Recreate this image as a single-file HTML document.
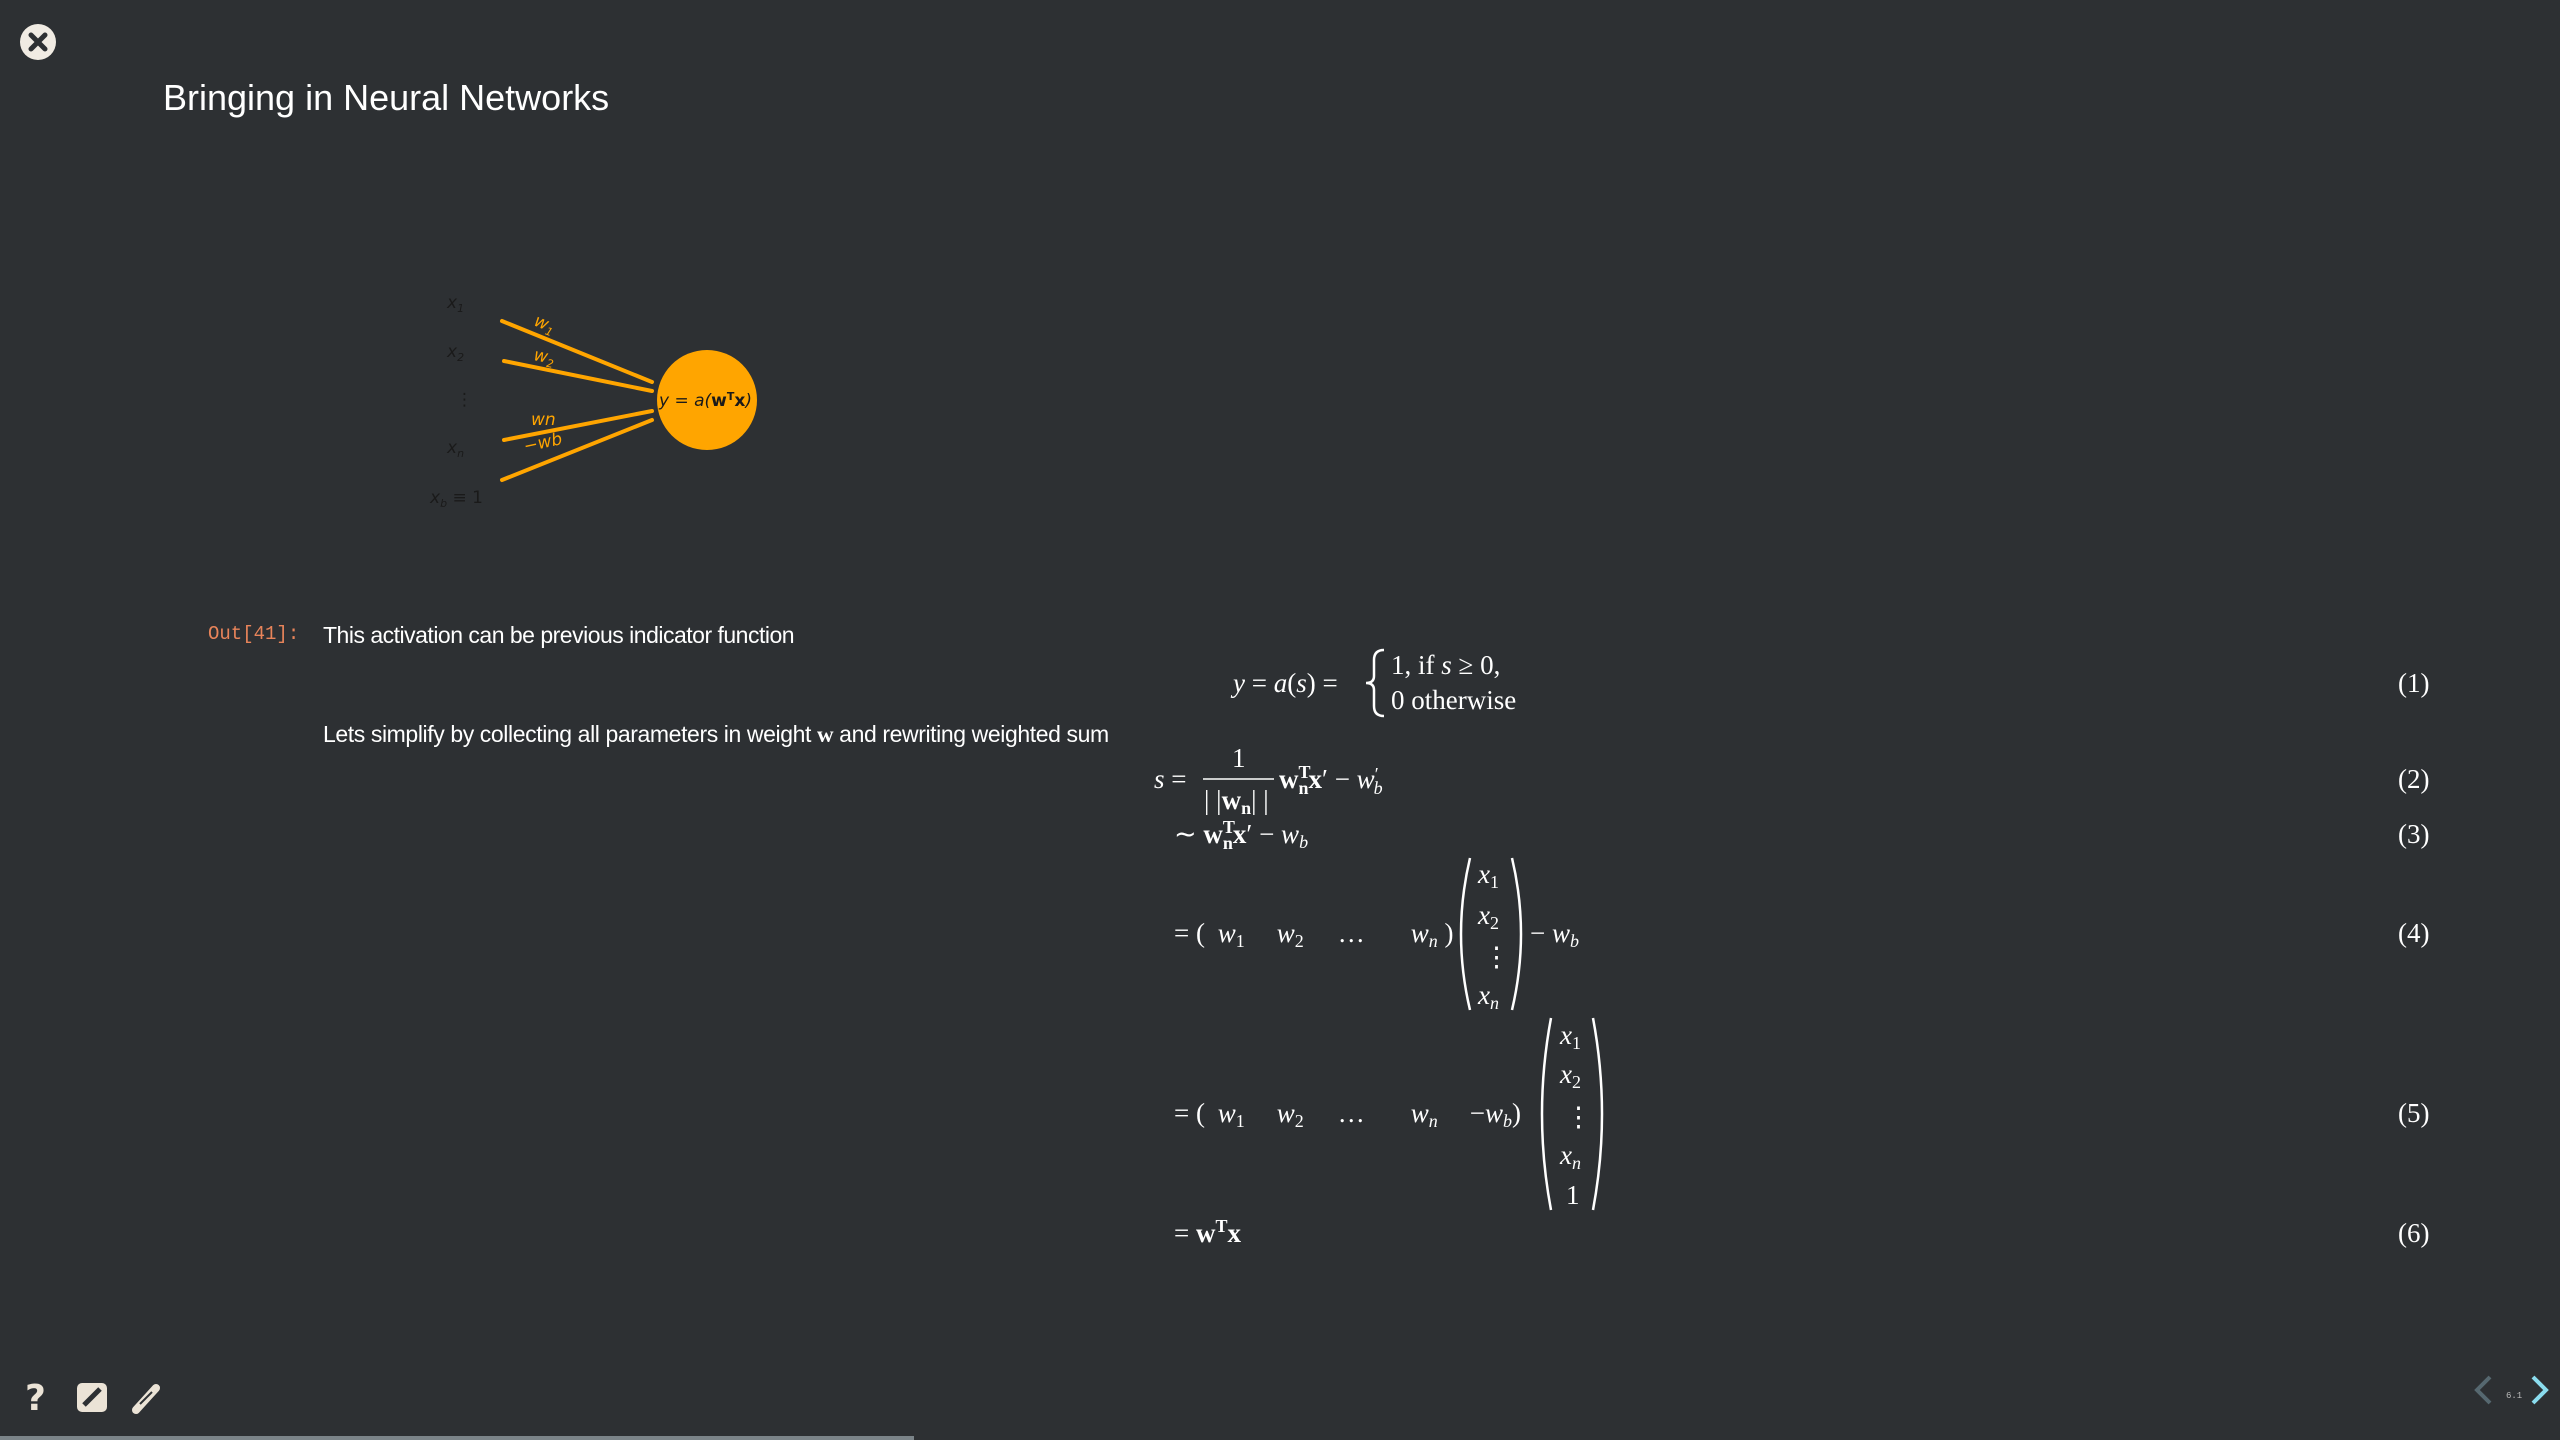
<!DOCTYPE html>
<html><head><meta charset="utf-8"><style>
html,body{margin:0;padding:0;background:#2d3033;width:2560px;height:1440px;overflow:hidden}
svg{display:block}
.m{font-family:"Liberation Serif",serif;fill:#fff;font-size:27px}
.s{font-family:"Liberation Sans",sans-serif;fill:#fff}
.d{font-family:"DejaVu Sans",sans-serif;font-style:italic;fill:#1a1a1a;font-size:17px}
.o{font-family:"DejaVu Sans",sans-serif;font-style:italic;fill:#ffa500;font-size:17px}
</style></head><body>
<svg width="2560" height="1440" viewBox="0 0 2560 1440">
<rect width="2560" height="1440" fill="#2d3033"/>
<g>
<circle cx="38" cy="42" r="18" fill="#f0ebe3"/>
<path d="M31 35 L45 49 M45 35 L31 49" stroke="#2d3033" stroke-width="5" stroke-linecap="round"/>
</g>
<text x="163" y="110" class="s" font-size="36">Bringing in Neural Networks</text>

<g>
<text x="447" y="308" class="d">x<tspan font-size="11" dy="4">1</tspan></text>
<text x="447" y="357" class="d">x<tspan font-size="11" dy="4">2</tspan></text>
<text x="456" y="405" class="d" font-style="normal">⋮</text>
<text x="447" y="453" class="d">x<tspan font-size="11" dy="4">n</tspan></text>
<text x="430" y="503" class="d">x<tspan font-size="11" dy="4">b</tspan><tspan dy="-4" font-style="normal"> ≡ 1</tspan></text>
<g stroke="#ffa500" stroke-width="4" stroke-linecap="round" fill="#ffa500">
<line x1="502" y1="321" x2="652" y2="382"/>
<line x1="504" y1="361" x2="652" y2="391"/>
<line x1="504" y1="440" x2="652" y2="411"/>
<line x1="502" y1="480" x2="652" y2="420"/>
</g>
<text x="533" y="325" class="o" transform="rotate(22 533 325)">w<tspan font-size="11" dy="4">1</tspan></text>
<text x="533" y="360" class="o" transform="rotate(11 533 360)">w<tspan font-size="11" dy="4">2</tspan></text>
<text x="531" y="425" class="o" font-style="normal">wn</text>
<text x="525" y="452" class="o" font-style="normal" transform="rotate(-12 525 452)">−wb</text>
<circle cx="707" cy="400" r="50" fill="#ffa500"/>
<text x="659" y="406" class="d" font-size="17">y = a(<tspan font-weight="bold" font-style="normal">w</tspan><tspan font-size="11" dy="-6" font-weight="bold" font-style="normal">T</tspan><tspan dy="6" font-weight="bold" font-style="normal">x</tspan>)</text>
</g>

<text x="208" y="639" font-family="Liberation Mono,monospace" font-size="19" fill="#e8845a">Out[41]:</text>
<text x="323" y="643" class="s" font-size="23" letter-spacing="-0.5">This activation can be previous indicator function</text>
<text x="323" y="742" class="s" font-size="23" letter-spacing="-0.4">Lets simplify by collecting all parameters in weight <tspan font-family="Liberation Serif" font-weight="bold">w</tspan> and rewriting weighted sum</text>

<g>
<text x="1233" y="692" class="m"><tspan font-style="italic">y</tspan> = <tspan font-style="italic">a</tspan>(<tspan font-style="italic">s</tspan>) =</text>
<path d="M1384 650 Q1374 650 1374 660 L1374 676 Q1374 683 1366 683 Q1374 683 1374 690 L1374 706 Q1374 716 1384 716" stroke="#fff" stroke-width="2.5" fill="none"/>
<text x="1391" y="674" class="m">1,  if <tspan font-style="italic">s</tspan> ≥ 0,</text>
<text x="1391" y="709" class="m">0 otherwise</text>
<text x="2398" y="692" class="m">(1)</text>

<text x="1154" y="788" class="m"><tspan font-style="italic">s</tspan> =</text>
<text x="1232" y="767" class="m">1</text>
<line x1="1203" y1="779" x2="1274" y2="779" stroke="#fff" stroke-width="1.5"/>
<text x="1204" y="809" class="m">| |<tspan font-weight="bold">w</tspan><tspan font-weight="bold" font-size="18" dy="5">n</tspan><tspan dy="-5">| |</tspan></text>
<text x="1279" y="788" class="m"><tspan font-weight="bold">w</tspan><tspan font-weight="bold" font-size="18" dy="-10">T</tspan><tspan font-weight="bold" font-size="18" dx="-12" dy="16">n</tspan><tspan font-weight="bold" dy="-6">x</tspan>′ − <tspan font-style="italic">w</tspan><tspan font-size="18" dy="-8">′</tspan><tspan font-style="italic" font-size="18" dx="-5" dy="14">b</tspan></text>
<text x="2398" y="788" class="m">(2)</text>

<text x="1174" y="843" class="m">∼ <tspan font-weight="bold">w</tspan><tspan font-weight="bold" font-size="18" dy="-10">T</tspan><tspan font-weight="bold" font-size="18" dx="-12" dy="16">n</tspan><tspan font-weight="bold" dy="-6">x</tspan>′ − <tspan font-style="italic">w</tspan><tspan font-style="italic" font-size="18" dy="5">b</tspan></text>
<text x="2398" y="843" class="m">(3)</text>

<text x="1174" y="942" class="m">= ( <tspan dx="6" font-style="italic">w</tspan><tspan font-size="18" dy="5">1</tspan><tspan dy="-5" dx="32" font-style="italic">w</tspan><tspan font-size="18" dy="5">2</tspan><tspan dy="-5" dx="34">…</tspan><tspan dx="46" font-style="italic">w</tspan><tspan font-style="italic" font-size="18" dy="5">n</tspan><tspan dy="-5"> )</tspan></text>
<path d="M1470 858 Q1452 934 1470 1010" stroke="#fff" stroke-width="2.5" fill="none"/>
<path d="M1512 858 Q1530 934 1512 1010" stroke="#fff" stroke-width="2.5" fill="none"/>
<text x="1478" y="883" class="m"><tspan font-style="italic">x</tspan><tspan font-size="18" dy="5">1</tspan></text>
<text x="1478" y="924" class="m"><tspan font-style="italic">x</tspan><tspan font-size="18" dy="5">2</tspan></text>
<text x="1483" y="966" class="m">⋮</text>
<text x="1478" y="1004" class="m"><tspan font-style="italic">x</tspan><tspan font-style="italic" font-size="18" dy="5">n</tspan></text>
<text x="1530" y="942" class="m">− <tspan font-style="italic">w</tspan><tspan font-style="italic" font-size="18" dy="5">b</tspan></text>
<text x="2398" y="942" class="m">(4)</text>

<text x="1174" y="1122" class="m">= ( <tspan dx="6" font-style="italic">w</tspan><tspan font-size="18" dy="5">1</tspan><tspan dy="-5" dx="32" font-style="italic">w</tspan><tspan font-size="18" dy="5">2</tspan><tspan dy="-5" dx="34">…</tspan><tspan dx="46" font-style="italic">w</tspan><tspan font-style="italic" font-size="18" dy="5">n</tspan><tspan dy="-5" dx="32">−</tspan><tspan font-style="italic">w</tspan><tspan font-style="italic" font-size="18" dy="5">b</tspan><tspan dy="-5">)</tspan></text>
<path d="M1551 1018 Q1533 1114 1551 1210" stroke="#fff" stroke-width="2.5" fill="none"/>
<path d="M1593 1018 Q1611 1114 1593 1210" stroke="#fff" stroke-width="2.5" fill="none"/>
<text x="1560" y="1044" class="m"><tspan font-style="italic">x</tspan><tspan font-size="18" dy="5">1</tspan></text>
<text x="1560" y="1083" class="m"><tspan font-style="italic">x</tspan><tspan font-size="18" dy="5">2</tspan></text>
<text x="1565" y="1126" class="m">⋮</text>
<text x="1560" y="1164" class="m"><tspan font-style="italic">x</tspan><tspan font-style="italic" font-size="18" dy="5">n</tspan></text>
<text x="1566" y="1204" class="m">1</text>
<text x="2398" y="1122" class="m">(5)</text>

<text x="1174" y="1242" class="m">= <tspan font-weight="bold">w</tspan><tspan font-weight="bold" font-size="18" dy="-10">T</tspan><tspan font-weight="bold" dy="10">x</tspan></text>
<text x="2398" y="1242" class="m">(6)</text>
</g>

<text x="25" y="1410" font-family="DejaVu Sans,sans-serif" font-weight="bold" font-size="36" fill="#ebe3d6">?</text>
<g>
<rect x="77" y="1383" width="30" height="29" rx="5" fill="#ebe3d6"/>
<path d="M84 1405 L100 1389" stroke="#2d3033" stroke-width="5"/>
</g>
<g>
<path d="M136 1410 L156 1388" stroke="#ebe3d6" stroke-width="8" stroke-linecap="round"/>
<path d="M140 1404 L152 1392" stroke="#2d3033" stroke-width="2"/>
</g>
<path d="M2490 1377 L2477 1390 L2490 1403" stroke="#566870" stroke-width="4" fill="none"/>
<text x="2506" y="1398" font-family="Liberation Mono,monospace" font-size="9" fill="#bbb">6.1</text>
<path d="M2533 1377 L2546 1390 L2533 1403" stroke="#8adcee" stroke-width="4" fill="none"/>
<rect x="0" y="1436" width="914" height="4" fill="#7b8489"/>
</svg>
</body></html>
